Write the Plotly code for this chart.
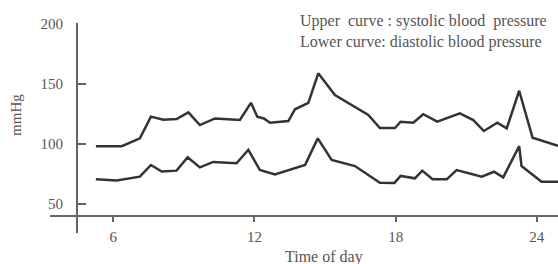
import plotly.graph_objects as go

# Time of day (hours) and blood pressure (mmHg)
upper_hours = [5.26, 6.36, 7.13, 7.6, 8.13, 8.69, 9.19, 9.68, 10.32, 11.38, 11.85, 12.12, 12.4, 12.66,
               13.44, 13.72, 14.29, 14.71, 15.42, 16.84, 17.33, 17.97, 18.21, 18.75, 19.17, 19.77,
               20.73, 21.3, 21.75, 22.32, 22.72, 23.25, 23.82, 24.9]
systolic = [98, 98, 104.5, 122.5, 120, 120.5, 126, 115.5, 121, 119.7, 134, 122.5, 121, 117.5,
            118.9, 128.6, 134, 158.5, 140.5, 124, 113, 113, 118.3, 117.5, 124.5, 118.3,
            125.3, 119.7, 110.6, 117.5, 112.8, 144, 105, 98.4]

lower_hours = [5.26, 6.14, 7.13, 7.6, 8.06, 8.69, 9.16, 9.68, 10.25, 11.24, 11.74, 12.23, 12.87,
               14.15, 14.69, 15.28, 16.27, 17.33, 17.95, 18.21, 18.82, 19.13, 19.57, 20.17, 20.59,
               21.66, 22.18, 22.57, 23.25, 23.35, 24.2, 24.9]
diastolic = [70.5, 69.6, 72.7, 82.4, 77, 77.7, 88.8, 80.4, 84.9, 83.8, 95, 78.2, 74.6,
             82.4, 104.5, 86.5, 81.5, 67.7, 67.5, 73.3, 71.3, 77.7, 70.5, 70.5, 78.2,
             72.7, 76.8, 72.1, 98.1, 81.5, 68.5, 68.5]

x_ticks = [6, 12, 18, 24]
y_ticks = [50, 100, 150, 200]

FONT = "Liberation Serif"
TXT = "#555555"
LINE = "#333333"
AX = "#666666"

fig = go.Figure()
fig.add_trace(go.Scatter(x=upper_hours, y=systolic, mode="lines",
                         line=dict(color=LINE, width=2.5), hoverinfo="skip"))
fig.add_trace(go.Scatter(x=lower_hours, y=diastolic, mode="lines",
                         line=dict(color=LINE, width=2.5), hoverinfo="skip"))

fig.update_layout(
    width=558, height=264,
    margin=dict(l=50, r=0, t=23, b=31),
    paper_bgcolor="white", plot_bgcolor="white",
    showlegend=False,
    font=dict(family=FONT, size=15, color=TXT),
    xaxis=dict(range=[3.31, 24.9], tickvals=x_ticks, ticktext=[str(v) for v in x_ticks],
               showgrid=False, zeroline=False, showline=True, linecolor=AX, linewidth=2,
               ticks="outside", ticklen=5, tickwidth=1.5, tickcolor=AX,
               anchor="free", position=0.0824, ticklabelstandoff=2),
    yaxis=dict(range=[25.93, 200.25], tickvals=y_ticks, showgrid=False, zeroline=False,
               showline=True, linecolor=AX, linewidth=2,
               ticks="inside", ticklen=8, tickwidth=1.5, tickcolor=AX,
               anchor="free", position=0.0531, ticklabelstandoff=10),
    annotations=[
        dict(text="Upper  curve : systolic blood  pressure", xref="paper", yref="paper",
             x=0.488, y=1.0095, xanchor="left", yanchor="middle", showarrow=False,
             font=dict(family=FONT, size=16, color=TXT)),
        dict(text="Lower curve: diastolic blood pressure", xref="paper", yref="paper",
             x=0.488, y=0.9095, xanchor="left", yanchor="middle", showarrow=False,
             font=dict(family=FONT, size=16, color=TXT)),
        dict(text="Time of day", xref="paper", yref="paper", x=0.539, y=-0.115,
             xanchor="center", yanchor="middle", showarrow=False,
             font=dict(family=FONT, size=16, color=TXT)),
        dict(text="mmHg", xref="paper", yref="paper", x=-0.067, y=0.562, textangle=-90,
             xanchor="center", yanchor="middle", showarrow=False,
             font=dict(family=FONT, size=15, color=TXT)),
    ],
)

fig.write_html("out.html", config={"displayModeBar": False},
               post_script="document.body.style.margin='0';")
